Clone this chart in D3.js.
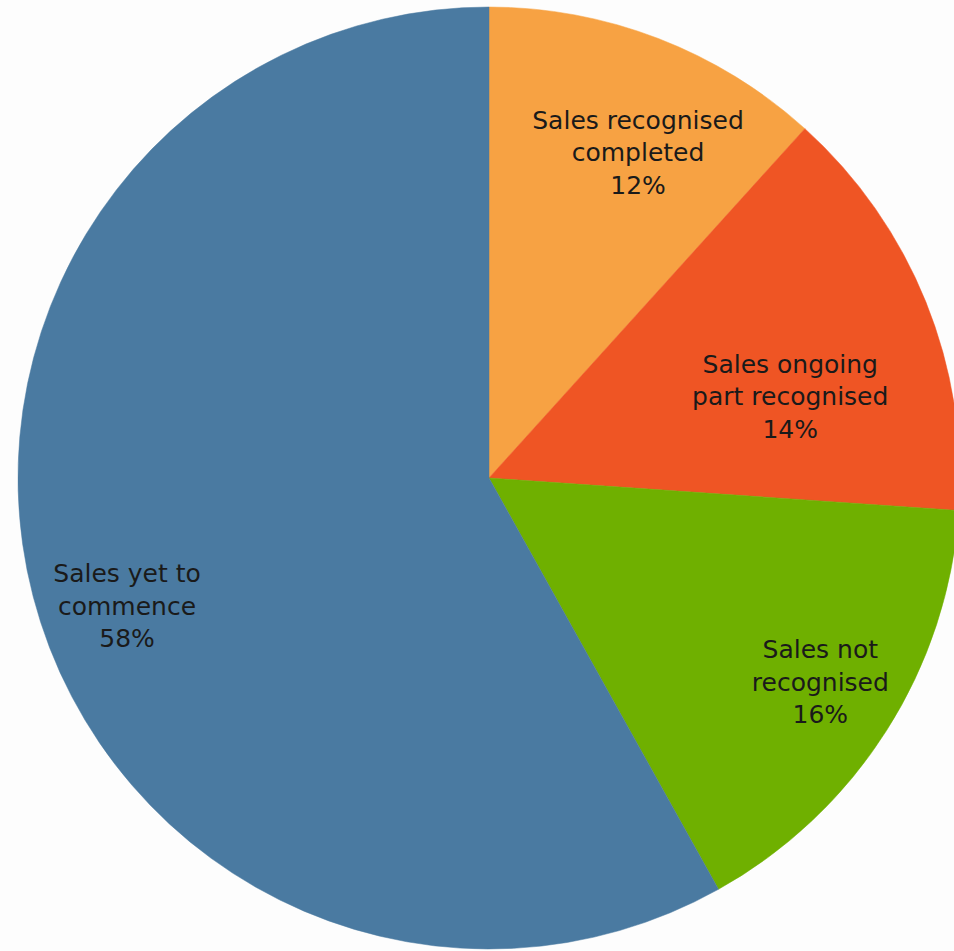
<!DOCTYPE html>
<html>
<head>
<meta charset="utf-8">
<script src="https://cdn.jsdelivr.net/npm/d3@7"></script>
<style>
  body { margin: 0; background: #fdfdfd; }
  svg { display: block; }
</style>
</head>
<body>
<div id="chart"></div>
<script>
// slice data, clockwise from 12 o'clock
const categories = [
  ["Sales recognised", "completed"],
  ["Sales ongoing", "part recognised"],
  ["Sales not", "recognised"],
  ["Sales yet to", "commence"]
];
const shares = [11.7, 14.4, 15.8, 58.1];
const colors = ["#F7A243", "#EF5524", "#6FB000", "#4A7AA1"];

// where each label sits (degrees from top, distance from centre in px)
const labelSpots = [[24.6, 358], [74.9, 312], [121.6, 389], [250.5, 384]];

const width = 954, height = 951;
const cx = 489, cy = 478, radius = 471;

const svg = d3.select("#chart").append("svg")
  .attr("width", width).attr("height", height);

svg.append("rect").attr("width", width).attr("height", height).attr("fill", "#fdfdfd");

const g = svg.append("g").attr("transform", `translate(${cx},${cy})`);

const pie = d3.pie().sort(null).value(d => d);
const arc = d3.arc().innerRadius(0).outerRadius(radius);

const arcs = pie(shares);

g.selectAll("path.slice")
  .data(arcs)
  .enter()
  .append("path")
    .attr("class", "slice")
    .attr("d", arc)
    .attr("fill", (d, i) => colors[i])
    .attr("stroke", (d, i) => colors[i])
    .attr("stroke-width", 0.5);

const labels = g.selectAll("text.lbl")
  .data(arcs)
  .enter()
  .append("text")
    .attr("class", "lbl")
    .attr("transform", (d, i) => {
      const a = labelSpots[i][0] * Math.PI / 180, r = labelSpots[i][1];
      return `translate(${r * Math.sin(a)},${-r * Math.cos(a)})`;
    })
    .attr("text-anchor", "middle")
    .style("font-family", "'DejaVu Sans', sans-serif")
    .style("font-size", "25px")
    .style("fill", "#1a1a1a");

labels.each(function(d, i) {
  const t = d3.select(this);
  const lines = categories[i].concat([Math.round(d.data) + "%"]);
  lines.forEach((ln, k) => {
    t.append("tspan")
      .attr("x", 0)
      .attr("y", (k - 1) * 32.5)
      .attr("dy", "0.35em")
      .text(ln);
  });
});
</script>
</body>
</html>
